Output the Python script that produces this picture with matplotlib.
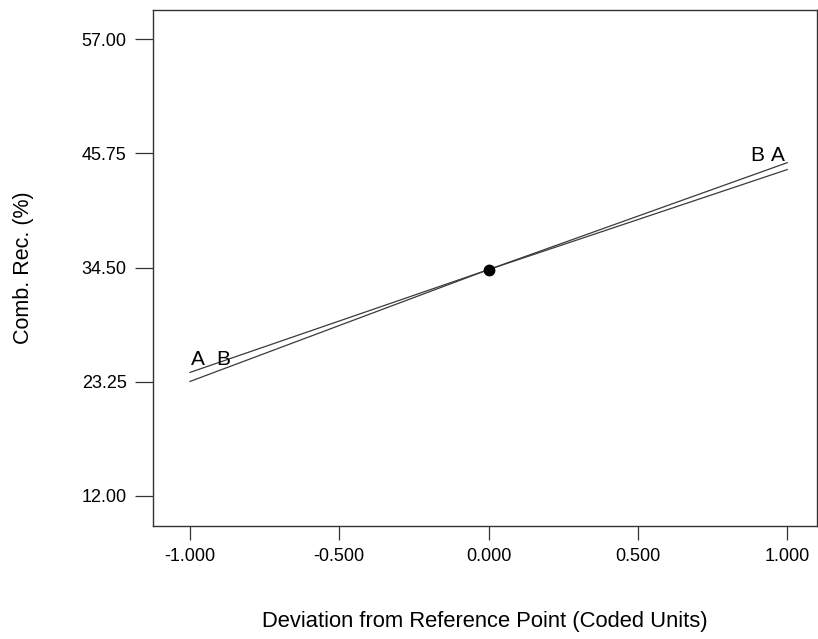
import matplotlib.pyplot as plt

plt.rcParams['font.family'] = ['Liberation Sans', 'DejaVu Sans']

# perturbation plot data (coded deviation vs response)
dev = [-1.0, 0.0, 1.0]
resp_A = [23.28, 34.3, 44.83]
resp_B = [24.17, 34.3, 44.15]

xticks = [-1.0, -0.5, 0.0, 0.5, 1.0]
yticks = [12.00, 23.25, 34.50, 45.75, 57.00]

fig = plt.figure(figsize=(8.18, 6.39), dpi=100)
ax = fig.add_axes([0.187, 0.177, 0.812, 0.807])

ax.plot(dev, resp_A, color='#3a3a3a', lw=0.9)
ax.plot(dev, resp_B, color='#3a3a3a', lw=0.9)

# reference point
ax.plot([0.0], [34.3], marker='o', markersize=7.5, color='black')

# factor labels at line ends
ax.text(-0.973, 24.5, 'A', fontsize=15, ha='center', va='bottom')
ax.text(-0.889, 24.5, 'B', fontsize=15, ha='center', va='bottom')
ax.text(0.900, 44.6, 'B', fontsize=15, ha='center', va='bottom')
ax.text(0.970, 44.6, 'A', fontsize=15, ha='center', va='bottom')

ax.set_xlim(-1.124, 1.1005)
ax.set_ylim(9.05, 59.85)
ax.set_xticks(xticks)
ax.set_xticklabels(['%.3f' % v for v in xticks])
ax.set_yticks(yticks)
ax.set_yticklabels(['%.2f' % v for v in yticks])

ax.tick_params(axis='y', length=13, width=0.9, pad=6, labelsize=13, color='#333333')
ax.tick_params(axis='x', length=10, width=0.9, pad=6, labelsize=13, color='#333333')
for s in ax.spines.values():
    s.set_color('#333333')
    s.set_linewidth(1.0)

ax.set_xlabel('Deviation from Reference Point (Coded Units)', fontsize=15.8, labelpad=33)
ax.set_ylabel('Comb. Rec. (%)', fontsize=15.5, labelpad=34)

fig.savefig('out.png', dpi=100)
